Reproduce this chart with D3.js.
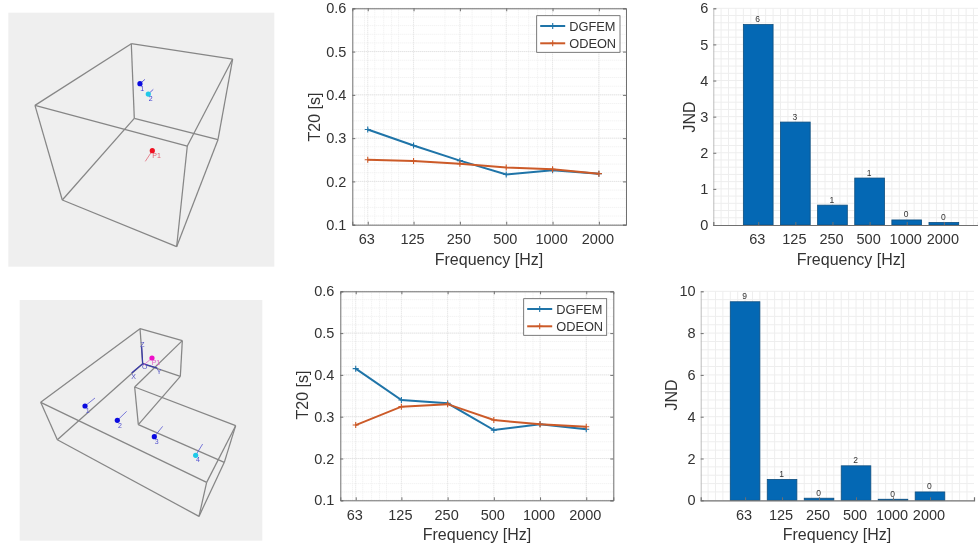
<!DOCTYPE html>
<html lang="en">

<head>
    <meta charset="UTF-8">
    <title>T20 and JND</title>
    <style>
        html, body { margin: 0; padding: 0; background: #fff; overflow: hidden; }
        svg { display: block; filter: blur(0.35px); }
        text { font-family: "Liberation Sans", Arial, sans-serif; fill: #333; }
    </style>
</head>

<body>
    <svg id="fig" width="978" height="544"></svg>
    <script src="https://d3js.org/d3.v7.min.js"></script>
    <script>
        const freqs = [63, 125, 250, 500, 1000, 2000];
        const logMinor = [60, 70, 80, 90, 100, 200, 300, 400, 600, 700, 800, 900, 2000, 3000];
        const t20Ticks = [0.1, 0.2, 0.3, 0.4, 0.5, 0.6];

        const dgfemTop = [0.32, 0.283, 0.248, 0.216, 0.226, 0.218];
        const odeonTop = [0.25, 0.247, 0.241, 0.232, 0.228, 0.218];
        const dgfemBottom = [0.415, 0.34, 0.332, 0.268, 0.282, 0.27];
        const odeonBottom = [0.28, 0.324, 0.33, 0.292, 0.282, 0.276];

        const jndTop = [5.55, 2.85, 0.55, 1.3, 0.14, 0.07];
        const jndTopLabels = ["6", "3", "1", "1", "0", "0"];
        const jndBottom = [9.5, 1.0, 0.1, 1.65, 0.05, 0.4];
        const jndBottomLabels = ["9", "1", "0", "2", "0", "0"];

        // room sketches in "view units"
        const roomBoxEdges = [
            [[394, 131], [698, 177]], [[394, 131], [105, 316]], [[394, 131], [403, 355]],
            [[698, 177], [654, 419]], [[698, 177], [562, 438]], [[105, 316], [562, 438]],
            [[105, 316], [187, 600]], [[562, 438], [530, 740]], [[403, 355], [654, 419]],
            [[403, 355], [187, 600]], [[654, 419], [530, 740]], [[187, 600], [530, 740]]
        ];
        const roomBoxPoints = [
            { name: "1", color: "#0a0ae0", at: [420, 251], stem: [435, 238], label: [427, 272], labelColor: "#3a3ad0" },
            { name: "2", color: "#20c8e8", at: [445, 282], stem: [460, 268], label: [452, 302], labelColor: "#3a3ad0" },
            { name: "P1", color: "#f01020", at: [457, 452], stem: [436, 484], label: [470, 473], labelColor: "#e06070" }
        ];
        const roomLEdges = [
            [[122, 391], [420, 170]], [[420, 170], [547, 206]], [[547, 206], [404, 345]],
            [[404, 345], [707, 461]], [[707, 461], [620, 631]], [[620, 631], [122, 391]],
            [[172, 503], [428, 275]], [[428, 275], [541, 313]], [[541, 313], [415, 458]],
            [[415, 458], [673, 571]], [[673, 571], [597, 733]], [[597, 733], [172, 503]],
            [[122, 391], [172, 503]], [[420, 170], [428, 275]], [[547, 206], [541, 313]],
            [[404, 345], [415, 458]], [[707, 461], [673, 571]], [[620, 631], [597, 733]]
        ];
        const roomLAxes = [
            [[428, 275], [395, 303]], [[428, 275], [425, 225]], [[428, 275], [472, 288]]
        ];
        const roomLAxisLabels = [
            { name: "X", at: [401, 320] }, { name: "Z", at: [427, 226] },
            { name: "Y", at: [477, 307] }, { name: "O", at: [434, 292] }
        ];
        const roomLPoints = [
            { name: "P1", color: "#ee10c8", at: [456, 258], stem: [430, 280], label: [468, 278], labelColor: "#e060c8" },
            { name: "1", color: "#0a0ae0", at: [255, 402], stem: [285, 378], label: [263, 422], labelColor: "#5050d0" },
            { name: "2", color: "#0a0ae0", at: [352, 445], stem: [380, 418], label: [360, 467], labelColor: "#5050d0" },
            { name: "3", color: "#0a0ae0", at: [463, 494], stem: [488, 463], label: [470, 515], labelColor: "#5050d0" },
            { name: "4", color: "#20c8e8", at: [587, 550], stem: [608, 516], label: [594, 570], labelColor: "#5050d0" }
        ];

        const svg = d3.select("#fig");
        const blueLine = "#1f74a8";
        const orangeLine = "#cc5a28";
        const gridMajor = "#dedede";
        const gridMinor = "#eeeeee";
        const axisColor = "#707070";

        function drawRoom(box, view, edges, points, axes, axisLabels) {
            const x = d3.scaleLinear().domain(view.vx).range([box.x0, box.x1]);
            const y = d3.scaleLinear().domain(view.vy).range([box.y0, box.y1]);
            const g = svg.append("g");

            g.append("rect")
                .attr("x", box.x0).attr("y", box.y0)
                .attr("width", box.x1 - box.x0).attr("height", box.y1 - box.y0)
                .attr("fill", "#efefef");

            g.selectAll(".edge").data(edges).join("line")
                .attr("class", "edge")
                .attr("x1", d => x(d[0][0])).attr("y1", d => y(d[0][1]))
                .attr("x2", d => x(d[1][0])).attr("y2", d => y(d[1][1]))
                .attr("stroke", "#868686").attr("stroke-width", 1.25);

            g.selectAll(".axis3d").data(axes).join("line")
                .attr("class", "axis3d")
                .attr("x1", d => x(d[0][0])).attr("y1", d => y(d[0][1]))
                .attr("x2", d => x(d[1][0])).attr("y2", d => y(d[1][1]))
                .attr("stroke", "#3a3aa8").attr("stroke-width", 1.3);

            g.selectAll(".axlab").data(axisLabels).join("text")
                .attr("class", "axlab")
                .attr("x", d => x(d.at[0])).attr("y", d => y(d.at[1]))
                .attr("text-anchor", "middle").attr("font-size", 7)
                .style("fill", "#5050c0").text(d => d.name);

            g.selectAll(".stem").data(points).join("line")
                .attr("class", "stem")
                .attr("x1", d => x(d.at[0])).attr("y1", d => y(d.at[1]))
                .attr("x2", d => x(d.stem[0])).attr("y2", d => y(d.stem[1]))
                .attr("stroke", d => d.labelColor).attr("stroke-opacity", 0.75).attr("stroke-width", 1);

            g.selectAll(".pt").data(points).join("circle")
                .attr("class", "pt")
                .attr("cx", d => x(d.at[0])).attr("cy", d => y(d.at[1]))
                .attr("r", 2.6).attr("fill", d => d.color);

            g.selectAll(".ptlab").data(points).join("text")
                .attr("class", "ptlab")
                .attr("x", d => x(d.label[0])).attr("y", d => y(d.label[1]))
                .attr("text-anchor", "middle").attr("font-size", 7)
                .style("fill", d => d.labelColor).text(d => d.name);
        }

        function drawLines(box, dgfem, odeon, legendBox, labels) {
            const x = d3.scaleLog().domain([50, 3000]).range([box.x0, box.x1]);
            const y = d3.scaleLinear().domain([0.1, 0.6]).range([box.y1, box.y0]);
            const g = svg.append("g");

            g.selectAll(".xminor").data(logMinor).join("line")
                .attr("x1", d => x(d)).attr("x2", d => x(d))
                .attr("y1", box.y0).attr("y2", box.y1)
                .attr("stroke", gridMinor).attr("stroke-dasharray", "1,1");
            g.selectAll(".yminor").data(d3.range(0.12, 0.6, 0.02)).join("line")
                .attr("x1", box.x0).attr("x2", box.x1)
                .attr("y1", d => y(d)).attr("y2", d => y(d))
                .attr("stroke", gridMinor).attr("stroke-dasharray", "1,1");
            g.selectAll(".xmajor").data(freqs).join("line")
                .attr("x1", d => x(d)).attr("x2", d => x(d))
                .attr("y1", box.y0).attr("y2", box.y1)
                .attr("stroke", gridMajor).attr("stroke-dasharray", "1,1");
            g.selectAll(".ymajor").data(t20Ticks).join("line")
                .attr("x1", box.x0).attr("x2", box.x1)
                .attr("y1", d => y(d)).attr("y2", d => y(d))
                .attr("stroke", gridMajor).attr("stroke-dasharray", "1,1");

            const left = g.append("g").attr("transform", `translate(${box.x0},0)`)
                .call(d3.axisLeft(y).tickValues(t20Ticks).tickFormat(d3.format(".1f")).tickSize(-3).tickPadding(6));
            const bottom = g.append("g").attr("transform", `translate(0,${box.y1})`)
                .call(d3.axisBottom(x).tickValues(freqs).tickFormat(d => d).tickSize(-3).tickPadding(9));
            g.append("g").attr("transform", `translate(${box.x1},0)`)
                .call(d3.axisRight(y).tickValues(t20Ticks).tickFormat("").tickSize(-3));
            g.append("g").attr("transform", `translate(0,${box.y0})`)
                .call(d3.axisTop(x).tickValues(freqs).tickFormat("").tickSize(-3));

            g.selectAll(".domain").attr("stroke", axisColor);
            g.selectAll(".tick line").attr("stroke", axisColor);
            left.selectAll("text").attr("font-size", 14.5).attr("font-family", null);
            bottom.selectAll("text").attr("font-size", 14.5).attr("font-family", null).attr("dx", -1.5);

            const line = d3.line().x((d, i) => x(freqs[i])).y(d => y(d));
            [[dgfem, blueLine], [odeon, orangeLine]].forEach(([vals, color]) => {
                g.append("path").attr("d", line(vals))
                    .attr("fill", "none").attr("stroke", color).attr("stroke-width", 2);
                g.selectAll(null).data(vals).join("path")
                    .attr("transform", (d, i) => `translate(${x(freqs[i])},${y(d)})`)
                    .attr("d", "M-3,0H3M0,-3V3")
                    .attr("stroke", color).attr("stroke-width", 1.1);
            });

            // legend
            const lg = g.append("g");
            lg.append("rect")
                .attr("x", legendBox.x0).attr("y", legendBox.y0)
                .attr("width", legendBox.x1 - legendBox.x0).attr("height", legendBox.y1 - legendBox.y0)
                .attr("fill", "#fff").attr("stroke", "#5a5a5a").attr("stroke-width", 0.8);
            [["DGFEM", blueLine, 10.3], ["ODEON", orangeLine, 27.6]].forEach(([name, color, dy]) => {
                const ly = legendBox.y0 + dy;
                lg.append("line")
                    .attr("x1", legendBox.x0 + 3.5).attr("x2", legendBox.x0 + 28.5)
                    .attr("y1", ly).attr("y2", ly)
                    .attr("stroke", color).attr("stroke-width", 2);
                lg.append("path")
                    .attr("transform", `translate(${legendBox.x0 + 16},${ly})`)
                    .attr("d", "M-3,0H3M0,-3V3")
                    .attr("stroke", color).attr("stroke-width", 1.1);
                lg.append("text")
                    .attr("x", legendBox.x0 + 32.5).attr("y", ly + 4.6)
                    .attr("font-size", 12.8).text(name);
            });

            axisTitles(labels);
        }

        function drawBars(box, domain, yMax, yTicks, yMinorStep, vals, valLabels, labels) {
            const x = d3.scaleLinear().domain(domain).range([box.x0, box.x1]);
            const y = d3.scaleLinear().domain([0, yMax]).range([box.y1, box.y0]);
            const g = svg.append("g");
            const idx = freqs.map((d, i) => i + 1);

            g.selectAll(".xminor").data(d3.range(Math.ceil(domain[0]), domain[1], 0.2)).join("line")
                .attr("x1", d => x(d)).attr("x2", d => x(d))
                .attr("y1", box.y0).attr("y2", box.y1)
                .attr("stroke", gridMinor);
            g.selectAll(".yminor").data(d3.range(yMinorStep, yMax + 0.01, yMinorStep)).join("line")
                .attr("x1", box.x0).attr("x2", box.x1)
                .attr("y1", d => y(d)).attr("y2", d => y(d))
                .attr("stroke", gridMinor);

            const barW = x(0.8) - x(0);
            g.selectAll(".bar").data(vals).join("rect")
                .attr("class", "bar")
                .attr("x", (d, i) => x(idx[i]) - barW / 2)
                .attr("y", d => y(d))
                .attr("width", barW)
                .attr("height", d => y(0) - y(d))
                .attr("fill", "#0468b4")
                .attr("stroke", "#0e4f80").attr("stroke-width", 0.8);

            g.selectAll(".barlab").data(vals).join("text")
                .attr("class", "barlab")
                .attr("x", (d, i) => x(idx[i]) - 0.5)
                .attr("y", d => y(d) - 2.5)
                .attr("text-anchor", "middle").attr("font-size", 8.5)
                .text((d, i) => valLabels[i]);

            const left = g.append("g").attr("transform", `translate(${box.x0},0)`)
                .call(d3.axisLeft(y).tickValues(yTicks).tickFormat(d3.format("d")).tickSize(-3).tickPadding(5));
            const bottom = g.append("g").attr("transform", `translate(0,${box.y1})`)
                .call(d3.axisBottom(x).tickValues(idx).tickFormat((d, i) => freqs[i]).tickSize(-3).tickPadding(9));

            left.select(".domain").attr("stroke", "#bdbdbd");
            bottom.select(".domain").attr("stroke", axisColor).attr("stroke-width", 1.2);
            g.selectAll(".tick line").attr("stroke", axisColor);
            left.selectAll("text").attr("font-size", 14.5).attr("font-family", null);
            bottom.selectAll("text").attr("font-size", 14.5).attr("font-family", null).attr("dx", -1.5);

            axisTitles(labels);
        }

        function axisTitles(t) {
            svg.append("text")
                .attr("x", t.xx).attr("y", t.xy)
                .attr("text-anchor", "middle").attr("font-size", 16).text("Frequency [Hz]");
            svg.append("text")
                .attr("transform", `translate(${t.yx},${t.yy}) rotate(-90)`)
                .attr("text-anchor", "middle").attr("font-size", 16).text(t.yText);
        }

        drawRoom({ x0: 8.3, x1: 274.3, y0: 12.7, y1: 266.7 }, { vx: [25, 823], vy: [38, 800] },
            roomBoxEdges, roomBoxPoints, [], []);
        drawRoom({ x0: 19.7, x1: 262.3, y0: 300, y1: 540.7 }, { vx: [59, 787], vy: [84, 806] },
            roomLEdges, roomLPoints, roomLAxes, roomLAxisLabels);

        drawLines({ x0: 352.3, x1: 626, y0: 8.3, y1: 224.7 }, dgfemTop, odeonTop,
            { x0: 536.7, x1: 620, y0: 15.7, y1: 52.3 },
            { xx: 489, xy: 265, yx: 320, yy: 117, yText: "T20 [s]" });
        drawLines({ x0: 340.3, x1: 613.3, y0: 291.3, y1: 500.3 }, dgfemBottom, odeonBottom,
            { x0: 523.7, x1: 606.7, y0: 298.7, y1: 335.3 },
            { xx: 477, xy: 540, yx: 308, yy: 395, yText: "T20 [s]" });

        drawBars({ x0: 713.3, x1: 978, y0: 8.3, y1: 225 }, [-0.21, 6.92], 6, d3.range(0, 7), 0.2,
            jndTop, jndTopLabels,
            { xx: 851, xy: 265, yx: 695, yy: 117, yText: "JND" });
        drawBars({ x0: 700.7, x1: 974, y0: 291.3, y1: 500.3 }, [-0.2, 7.19], 10, d3.range(0, 11, 2), 0.4,
            jndBottom, jndBottomLabels,
            { xx: 837, xy: 540, yx: 677, yy: 395, yText: "JND" });
    </script>
</body>

</html>
